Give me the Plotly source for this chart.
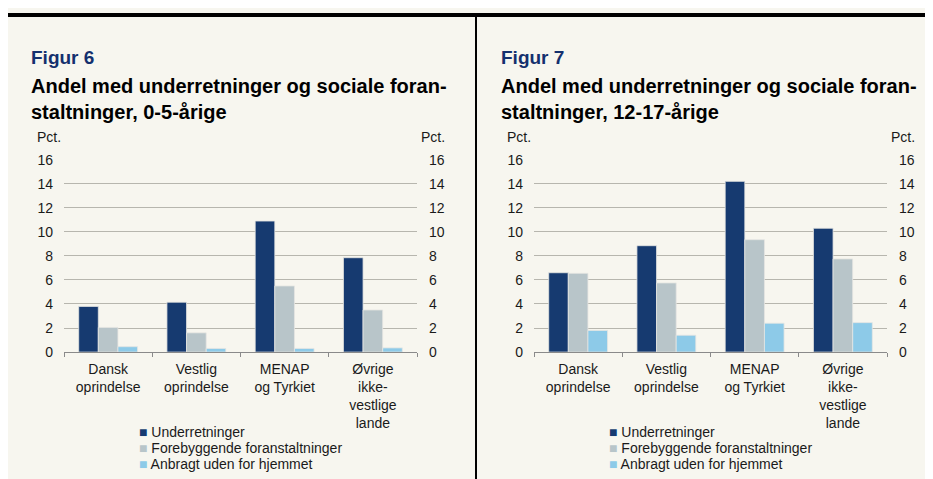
import plotly.graph_objects as go

# Data (Pct.)
categories = ["Dansk<br>oprindelse", "Vestlig<br>oprindelse", "MENAP<br>og Tyrkiet",
              "Øvrige<br>ikke-<br>vestlige<br>lande"]
series_names = ["Underretninger", "Forebyggende foranstaltninger", "Anbragt uden for hjemmet"]
series_colors = ["#163A70", "#B8C5C9", "#8DCAE8"]

fig6_underretninger = [3.8, 4.15, 10.9, 7.85]
fig6_forebyggende = [2.05, 1.6, 5.5, 3.5]
fig6_anbragt = [0.45, 0.3, 0.3, 0.35]

fig7_underretninger = [6.6, 8.85, 14.2, 10.3]
fig7_forebyggende = [6.55, 5.75, 9.35, 7.75]
fig7_anbragt = [1.8, 1.4, 2.4, 2.45]

fig_numbers = ["Figur 6", "Figur 7"]
title_line1 = ["Andel med underretninger og sociale foran-", "Andel med underretninger og sociale foran-"]
title_line2 = ["staltninger, 0-5-årige", "staltninger, 12-17-årige"]
y_ticks = [0, 2, 4, 6, 8, 10, 12, 14, 16]

W, H = 933, 479
OFF = 8  # the page body margin shifts the figure by 8 px
BG = "#F7F6EF"
FONT = "Arial, Liberation Sans, sans-serif"
TXT = "#1a1a1a"


def px(x):
    # screen x in the reference -> paper x
    return (x - OFF) / W


def py(y):
    # screen y in the reference -> paper y
    return 1 - (y - OFF) / H


panels = [
    [fig6_underretninger, fig6_forebyggende, fig6_anbragt],
    [fig7_underretninger, fig7_forebyggende, fig7_anbragt],
]

fig = go.Figure()
layout = {}
annotations = []

for i, panel in enumerate(panels):
    dx = 470 * i
    xa = "x" if i == 0 else "x2"
    ya = "y" if i == 0 else "y2"
    yr_ref = "y3" if i == 0 else "y4"
    for vals, name, col in zip(panel, series_names, series_colors):
        fig.add_trace(go.Bar(x=categories, y=vals, name=name, xaxis=xa, yaxis=ya,
                             marker=dict(color=col, line=dict(color="#E6E6E2", width=0.8)),
                             showlegend=False, hoverinfo="y"))
    # empty trace so the right-hand value axis gets drawn
    fig.add_trace(go.Scatter(x=categories, y=panel[0], xaxis=xa, yaxis=yr_ref, mode="none",
                             showlegend=False, hoverinfo="skip"))

    xk = "xaxis" if i == 0 else "xaxis2"
    yk = "yaxis" if i == 0 else "yaxis2"
    yr = "yaxis3" if i == 0 else "yaxis4"
    layout[xk] = dict(domain=[px(64 + dx), px(417 + dx)], anchor=ya, type="category",
                      tickson="boundaries", ticks="outside", ticklen=4, tickcolor="#8a8a8a",
                      showline=True, linecolor="#8a8a8a", linewidth=1, showgrid=False,
                      tickfont=dict(family=FONT, size=14, color=TXT), tickangle=0,
                      ticklabelstandoff=4)
    layout[yk] = dict(domain=[py(355.7), py(156.7)], anchor=xa, range=[0, 16],
                      tickvals=y_ticks, showgrid=True, gridcolor="#B7B6AE", gridwidth=1,
                      zeroline=False, showline=False, ticks="",
                      tickfont=dict(family=FONT, size=14, color=TXT), ticklabelstandoff=10)
    layout[yr] = dict(overlaying=ya, anchor=xa, side="right", range=[0, 16],
                      tickvals=y_ticks, showgrid=False, zeroline=False, showline=False,
                      ticks="", tickfont=dict(family=FONT, size=14, color=TXT),
                      ticklabelstandoff=11)

    # titles
    annotations.append(dict(text="<b>" + fig_numbers[i] + "</b>", x=px(29 + dx), y=py(51),
                            font=dict(family=FONT, size=19, color="#14306E")))
    annotations.append(dict(text="<b>" + title_line1[i] + "</b>", x=px(29 + dx), y=py(80),
                            font=dict(family=FONT, size=20, color="#000000")))
    annotations.append(dict(text="<b>" + title_line2[i] + "</b>", x=px(29 + dx), y=py(107),
                            font=dict(family=FONT, size=20, color="#000000")))
    annotations.append(dict(text="Pct.", x=px(35 + dx), y=py(133),
                            font=dict(family=FONT, size=14, color=TXT)))
    annotations.append(dict(text="Pct.", x=px(447 + dx), y=py(133), xanchor="right",
                            font=dict(family=FONT, size=14, color=TXT)))

    # legend, built from series names and colours
    for k, (name, col) in enumerate(zip(series_names, series_colors)):
        annotations.append(dict(text='<span style="color:%s">■</span> %s' % (col, name),
                                x=px(137 + dx), y=py(438 + 16.8 * k),
                                font=dict(family=FONT, size=14, color=TXT)))

for a in annotations:
    a.setdefault("xanchor", "left")
    a.update(xref="paper", yref="paper", yanchor="middle", showarrow=False)

shapes = [
    # frame: black rule on top, divider between the two figures
    dict(type="rect", xref="paper", yref="paper", x0=px(7), x1=1.05, y0=py(9), y1=py(5),
         fillcolor="black", line_width=0),
    dict(type="rect", xref="paper", yref="paper", x0=px(475), x1=px(477), y0=-0.05, y1=py(9),
         fillcolor="black", line_width=0),
]

fig.update_layout(
    width=W, height=H,
    margin=dict(l=0, r=0, t=0, b=0),
    paper_bgcolor=BG, plot_bgcolor=BG,
    barmode="group", bargap=0.333, bargroupgap=0,
    showlegend=False,
    annotations=annotations,
    shapes=shapes,
    **layout
)

fig.write_html("out.html", config={"displayModeBar": False})
